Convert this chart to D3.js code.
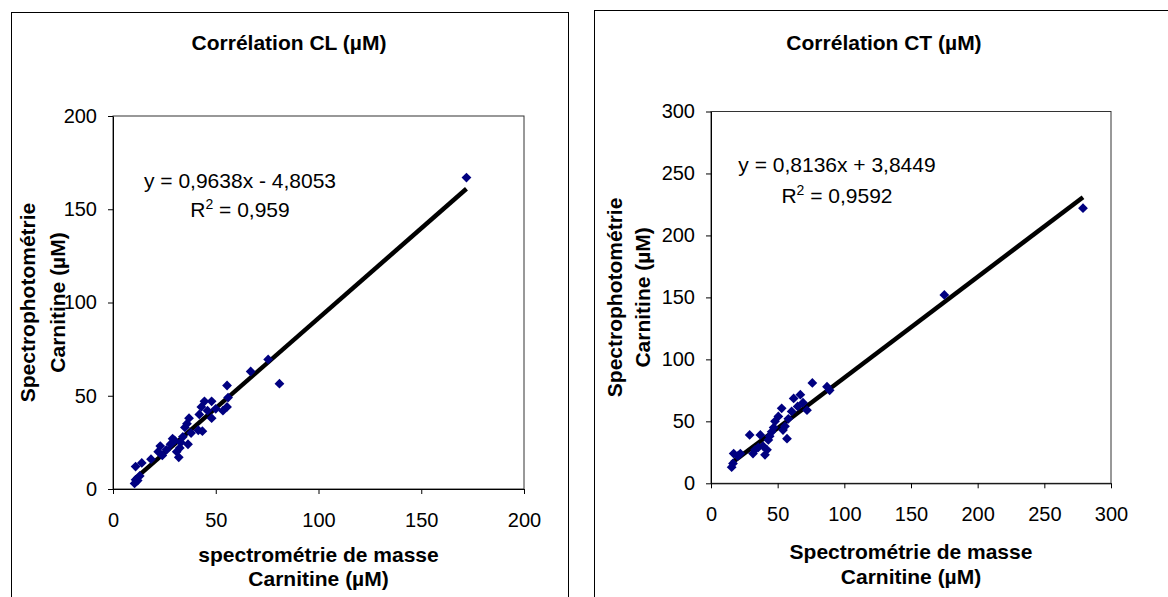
<!DOCTYPE html>
<html>
<head>
<meta charset="utf-8">
<script src="https://cdn.jsdelivr.net/npm/d3@7"></script>
<style>
  html, body { margin: 0; padding: 0; background: #fff; }
  svg { display: block; font-family: Arial, "Liberation Sans", sans-serif; }
</style>
</head>
<body>
<svg id="chart" width="1168" height="597"></svg>
<script>
// ---------- DATA ----------
const clTitle = "Corrélation CL (µM)";
const clXLabel = ["spectrométrie de masse", "Carnitine (µM)"];
const clYLabel = ["Spectrophotométrie", "Carnitine (µM)"];
const clTicks = [0, 50, 100, 150, 200];
const clMass = [10.5, 11, 12, 13, 11, 14, 18.5, 22, 23, 24, 26, 28, 29, 30, 31, 32, 32.5, 33, 34, 35, 36, 37, 36.5, 38, 41.5, 43.5, 42, 44.5, 43, 46, 48, 48, 50, 53.5, 55.5, 56, 55.5, 67, 75.5, 81, 172];
const clSpectro = [3, 5, 4.5, 7, 12, 14, 16, 20, 23, 18, 21, 24, 27, 26, 20, 17, 22, 25, 28, 33, 35, 38, 24, 30, 31.5, 31, 40, 47, 44, 42, 38, 47, 43, 42, 44, 49, 55.5, 63, 69.5, 56.5, 167];
const clSlope = 0.9638, clIntercept = -4.8053;
const clEquation = "y = 0,9638x - 4,8053";
const clR2 = "0,959";

const ctTitle = "Corrélation CT (µM)";
const ctXLabel = ["Spectrométrie de masse", "Carnitine (µM)"];
const ctYLabel = ["Spectrophotométrie", "Carnitine (µM)"];
const ctTicks = [0, 50, 100, 150, 200, 250, 300];
const ctMass = [15.5, 16.5, 17, 20, 22, 29, 31.5, 33, 35.5, 37, 39, 40.5, 42, 43, 44, 45.5, 47, 48, 50.5, 53, 54, 55.5, 57, 58, 60.5, 62, 65, 67, 69, 72, 76, 87, 89, 175, 279];
const ctSpectro = [13, 16, 24, 22, 24, 39, 24, 27, 29, 39, 30, 23, 27, 35, 38, 41.5, 45, 50, 54, 60.5, 43, 46, 36, 52, 58, 68.5, 62, 71.5, 65, 59, 81, 78, 75, 152, 222];
const ctSlope = 0.8136, ctIntercept = 3.8449;
const ctEquation = "y = 0,8136x + 3,8449";
const ctR2 = "0,9592";

// ---------- LAYOUT ----------
const charts = [
  {
    title: clTitle, xLabel: clXLabel, yLabel: clYLabel, ticks: clTicks,
    xs: clMass, ys: clSpectro, slope: clSlope, intercept: clIntercept,
    eq: clEquation, r2: clR2,
    frame: {x: 11, y: 12, w: 557, h: 620},
    plot: {l: 113, r: 524, t: 116, b: 489},
    titlePos: [289, 50],
    yLabelX: [35, 65],
    xLabelY: [562, 586],
    eqPos: [240, 188, 217]
  },
  {
    title: ctTitle, xLabel: ctXLabel, yLabel: ctYLabel, ticks: ctTicks,
    xs: ctMass, ys: ctSpectro, slope: ctSlope, intercept: ctIntercept,
    eq: ctEquation, r2: ctR2,
    frame: {x: 594, y: 10, w: 590, h: 620},
    plot: {l: 711, r: 1111, t: 111.5, b: 483.3},
    titlePos: [884, 50],
    yLabelX: [622, 650],
    xLabelY: [559, 584],
    eqPos: [837, 172, 203]
  }
];

const svg = d3.select("#chart");
svg.append("rect").attr("width", 1168).attr("height", 597).attr("fill", "#fff");

charts.forEach(c => {
  const g = svg.append("g");
  const dom = [c.ticks[0], c.ticks[c.ticks.length - 1]];
  const x = d3.scaleLinear().domain(dom).range([c.plot.l, c.plot.r]);
  const y = d3.scaleLinear().domain(dom).range([c.plot.b, c.plot.t]);

  g.append("rect")
    .attr("x", c.frame.x + 0.5).attr("y", c.frame.y + 0.5)
    .attr("width", c.frame.w).attr("height", c.frame.h)
    .attr("fill", "none").attr("stroke", "#000").attr("stroke-width", 1);

  g.append("text")
    .attr("x", c.titlePos[0]).attr("y", c.titlePos[1])
    .attr("text-anchor", "middle")
    .attr("font-size", 21).attr("font-weight", "bold")
    .text(c.title);

  g.append("rect")
    .attr("x", c.plot.l).attr("y", c.plot.t)
    .attr("width", c.plot.r - c.plot.l).attr("height", c.plot.b - c.plot.t)
    .attr("fill", "none").attr("stroke", "#333").attr("stroke-width", 1);

  const xAxis = d3.axisBottom(x).tickValues(c.ticks).tickSize(5).tickPadding(19).tickSizeOuter(0);
  const yAxis = d3.axisLeft(y).tickValues(c.ticks).tickSize(5).tickPadding(11).tickSizeOuter(0);
  const gx = g.append("g").attr("transform", `translate(0,${c.plot.b})`).call(xAxis);
  const gy = g.append("g").attr("transform", `translate(${c.plot.l},0)`).call(yAxis);
  [gx, gy].forEach(ax => {
    ax.selectAll("text").attr("font-size", 20).attr("font-family", "Arial, 'Liberation Sans', sans-serif").attr("fill", "#000");
    ax.selectAll("line").attr("stroke", "#000");
    ax.select(".domain").attr("stroke", "#000");
  });

  c.xLabel.forEach((t, i) => {
    g.append("text")
      .attr("x", (c.plot.l + c.plot.r) / 2).attr("y", c.xLabelY[i])
      .attr("text-anchor", "middle").attr("font-size", 21).attr("font-weight", "bold")
      .text(t);
  });
  const cy = (c.plot.t + c.plot.b) / 2;
  c.yLabel.forEach((t, i) => {
    g.append("text")
      .attr("transform", `translate(${c.yLabelX[i]},${cy}) rotate(-90)`)
      .attr("text-anchor", "middle").attr("font-size", 21).attr("font-weight", "bold")
      .text(t);
  });

  const x0 = d3.min(c.xs), x1 = d3.max(c.xs);
  g.append("line")
    .attr("x1", x(x0)).attr("y1", y(c.slope * x0 + c.intercept))
    .attr("x2", x(x1)).attr("y2", y(c.slope * x1 + c.intercept))
    .attr("stroke", "#000").attr("stroke-width", 4.5);

  const sym = d3.symbol().type(d3.symbolSquare).size(48);
  g.append("g").selectAll("path")
    .data(c.xs.map((v, i) => [v, c.ys[i]]))
    .join("path")
    .attr("d", sym)
    .attr("transform", d => `translate(${x(d[0])},${y(d[1])}) rotate(45)`)
    .attr("fill", "#000080");

  g.append("text")
    .attr("x", c.eqPos[0]).attr("y", c.eqPos[1])
    .attr("text-anchor", "middle").attr("font-size", 21)
    .text(c.eq);
  const r2 = g.append("text")
    .attr("x", c.eqPos[0]).attr("y", c.eqPos[2])
    .attr("text-anchor", "middle").attr("font-size", 21);
  r2.append("tspan").text("R");
  r2.append("tspan").attr("font-size", 14).attr("dy", -8).text("2");
  r2.append("tspan").attr("dy", 8).text(" = " + c.r2);
});
</script>
</body>
</html>
